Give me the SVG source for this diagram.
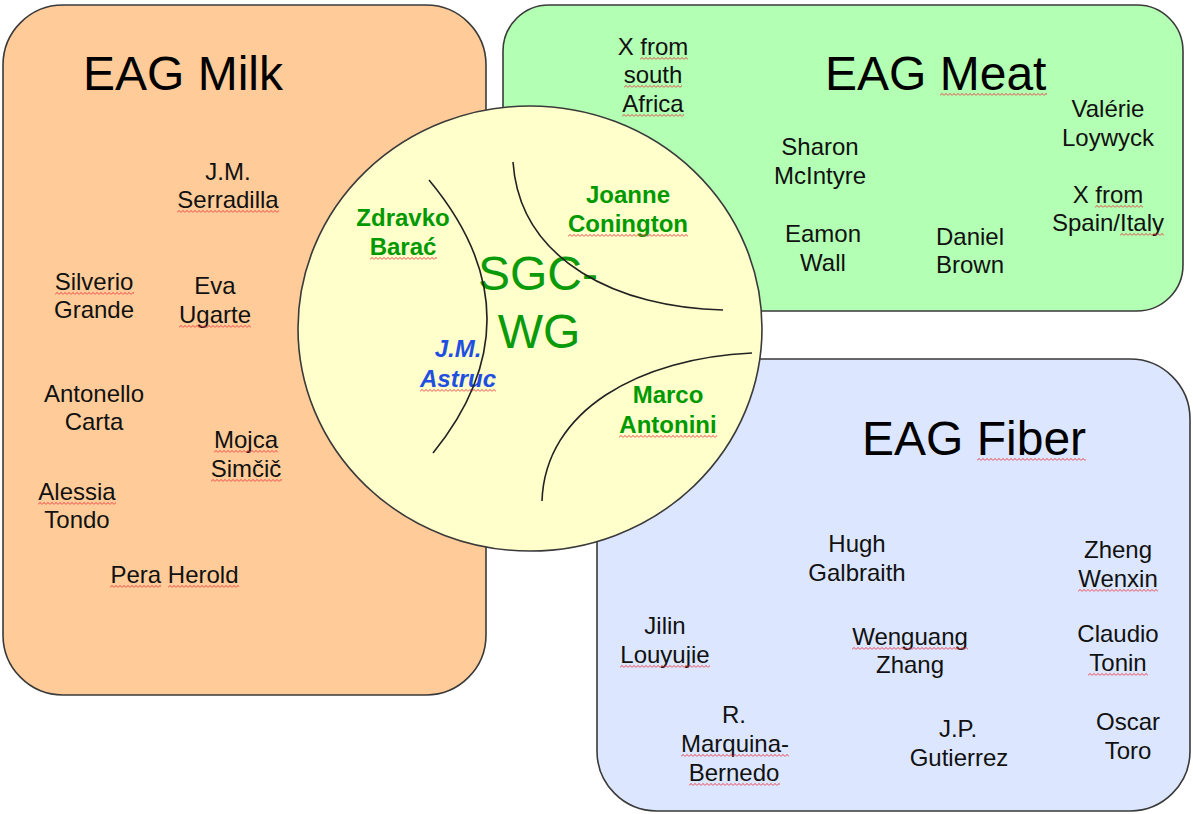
<svg xmlns="http://www.w3.org/2000/svg" width="1193" height="814" viewBox="0 0 1193 814">
<defs>
<pattern id="sqp" patternUnits="userSpaceOnUse" width="4" height="3">
<polyline points="0,2.6 2,0.4 4,2.6" fill="none" stroke="#e8383d" stroke-width="0.9"/>
</pattern>
<style>
.box{stroke:#3a3a3a;stroke-width:1.6}
.t{font-family:"Liberation Sans",Arial,sans-serif;font-size:24px;fill:#111;text-anchor:middle}
.title{font-family:"Liberation Sans",Arial,sans-serif;font-size:48px;fill:#000}
.g{font-family:"Liberation Sans",Arial,sans-serif;font-size:24px;font-weight:bold;fill:#009a00;text-anchor:middle}
.b{font-family:"Liberation Sans",Arial,sans-serif;font-size:24px;font-weight:bold;font-style:italic;fill:#1f4fe0;text-anchor:middle}
.sgc{font-family:"Liberation Sans",Arial,sans-serif;font-size:48px;fill:#0a9a0a;text-anchor:middle}
.arc{fill:none;stroke:#222;stroke-width:1.6}
.sq{fill:url(#sqp)}
</style>
</defs>
<rect width="1193" height="814" fill="#ffffff"/>

<g id="eag-milk">
<rect class="box" x="3" y="5" width="483" height="690" rx="60" ry="60" fill="#ffcc99"/>
<text class="title" x="83" y="90">EAG Milk</text>
<text class="t" x="228" y="180">J.M.</text><text class="t" x="228" y="208">Serradilla</text>
<text class="t" x="94" y="290">Silverio</text><text class="t" x="94" y="318">Grande</text>
<text class="t" x="215" y="294">Eva</text><text class="t" x="215" y="323">Ugarte</text>
<text class="t" x="94" y="402">Antonello</text><text class="t" x="94" y="430">Carta</text>
<text class="t" x="246" y="448">Mojca</text><text class="t" x="246" y="477">Simčič</text>
<text class="t" x="77" y="500">Alessia</text><text class="t" x="77" y="528">Tondo</text>
<text class="t" x="174.5" y="583">Pera Herold</text>
<rect class="sq" transform="translate(177,210)" width="102" height="3"/>
<rect class="sq" transform="translate(55,292)" width="79" height="3"/>
<rect class="sq" transform="translate(179,325)" width="72" height="3"/>
<rect class="sq" transform="translate(214,450)" width="64" height="3"/>
<rect class="sq" transform="translate(211,479)" width="71" height="3"/>
<rect class="sq" transform="translate(38,502)" width="78" height="3"/>
<rect class="sq" transform="translate(110,585)" width="51" height="3"/>
<rect class="sq" transform="translate(168,585)" width="71" height="3"/>
</g>

<g id="eag-meat">
<rect class="box" x="503" y="5" width="680" height="306" rx="46" ry="46" fill="#b3ffb3"/>
<text class="title" x="825" y="90">EAG Meat</text>
<text class="t" x="653" y="55">X from</text><text class="t" x="653" y="83">south</text><text class="t" x="653" y="112">Africa</text>
<text class="t" x="820" y="155">Sharon</text><text class="t" x="820" y="184">McIntyre</text>
<text class="t" x="823" y="242">Eamon</text><text class="t" x="823" y="271">Wall</text>
<text class="t" x="970" y="245">Daniel</text><text class="t" x="970" y="273">Brown</text>
<text class="t" x="1108" y="117">Valérie</text><text class="t" x="1108" y="146">Loywyck</text>
<text class="t" x="1108" y="203">X from</text><text class="t" x="1108" y="231">Spain/Italy</text>
<rect class="sq" transform="translate(640,57)" width="48" height="3"/>
<rect class="sq" transform="translate(624,85)" width="58" height="3"/>
<rect class="sq" transform="translate(622,114)" width="62" height="3"/>
<rect class="sq" transform="translate(940,93)" width="107" height="3"/>
<rect class="sq" transform="translate(1095,205)" width="48" height="3"/>
<rect class="sq" transform="translate(1120,233)" width="44" height="3"/>
</g>

<g id="eag-fiber">
<rect class="box" x="597" y="359" width="593" height="452" rx="60" ry="60" fill="#dce6ff"/>
<text class="title" x="862" y="455">EAG Fiber</text>
<text class="t" x="857" y="552">Hugh</text><text class="t" x="857" y="581">Galbraith</text>
<text class="t" x="1118" y="558">Zheng</text><text class="t" x="1118" y="587">Wenxin</text>
<text class="t" x="665" y="634">Jilin</text><text class="t" x="665" y="663">Louyujie</text>
<text class="t" x="910" y="645">Wenguang</text><text class="t" x="910" y="673">Zhang</text>
<text class="t" x="1118" y="642">Claudio</text><text class="t" x="1118" y="671">Tonin</text>
<text class="t" x="734" y="723">R.</text><text class="t" x="735" y="752">Marquina-</text><text class="t" x="734" y="781">Bernedo</text>
<text class="t" x="958" y="737">J.P.</text><text class="t" x="959" y="766">Gutierrez</text>
<text class="t" x="1128" y="730">Oscar</text><text class="t" x="1128" y="759">Toro</text>
<rect class="sq" transform="translate(977,458)" width="109" height="3"/>
<rect class="sq" transform="translate(1078,589)" width="80" height="3"/>
<rect class="sq" transform="translate(620,665)" width="90" height="3"/>
<rect class="sq" transform="translate(852,647)" width="116" height="3"/>
<rect class="sq" transform="translate(1088,673)" width="60" height="3"/>
<rect class="sq" transform="translate(681,754)" width="108" height="3"/>
<rect class="sq" transform="translate(689,783)" width="91" height="3"/>
</g>

<g id="sgc-wg">
<ellipse class="box" cx="530" cy="328.5" rx="232" ry="222.5" fill="#ffffcc"/>
<text class="sgc" x="538" y="290">SGC-</text>
<text class="sgc" x="539" y="348">WG</text>
<text class="g" x="403" y="226">Zdravko</text><text class="g" x="403" y="255">Barać</text>
<text class="g" x="628" y="203">Joanne</text><text class="g" x="628" y="232">Conington</text>
<text class="b" x="458" y="357">J.M.</text><text class="b" x="458" y="387">Astruc</text>
<text class="g" x="668" y="403">Marco</text><text class="g" x="668" y="433">Antonini</text>
<rect class="sq" transform="translate(370,257)" width="67" height="3"/>
<rect class="sq" transform="translate(568,234)" width="120" height="3"/>
<rect class="sq" transform="translate(420,389)" width="76" height="3"/>
<rect class="sq" transform="translate(619,435)" width="98" height="3"/>
</g>

<g id="connectors">
<path class="arc" d="M429,180 Q543,317 433,453"/>
<path class="arc" d="M513,162 C520,262 620,308 723,310"/>
<path class="arc" d="M752,353 C640,358 545,410 542,501"/>
</g>
</svg>
